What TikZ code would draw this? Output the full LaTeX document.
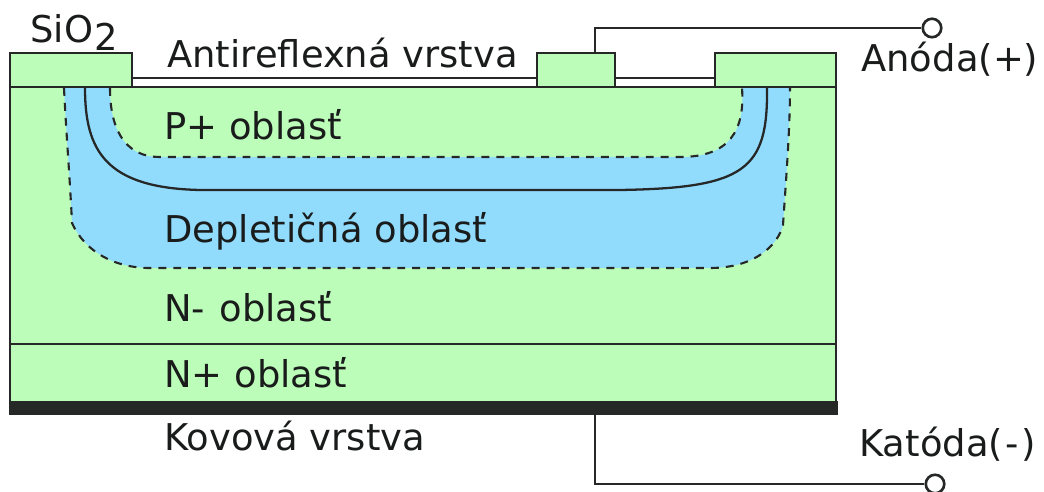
\documentclass[tikz,border=0pt]{standalone}
\usepackage{fontspec}
\setmainfont{DejaVu Sans}
\usetikzlibrary{positioning}
\definecolor{oxidegreen}{RGB}{187,253,185}
\definecolor{depleteblue}{RGB}{145,220,253}
\definecolor{inkdark}{RGB}{38,40,40}
\definecolor{textdark}{RGB}{26,28,28}
\tikzset{
  layer/.style={draw=inkdark, line width=1.6pt, fill=oxidegreen},
  edgeline/.style={inkdark, line width=1.3pt},
  dashline/.style={inkdark, line width=1.2pt, dash pattern=on 4.5pt off 4pt},
  wire/.style={inkdark, line width=1.5pt},
  terminal/.style={circle, draw=inkdark, line width=1.5pt, fill=white, inner sep=0pt, minimum size=0.37cm},
  label/.style={anchor=base west, inner sep=0pt, text=textdark, font=\fontsize{21}{25}\selectfont}
}
\begin{document}
\begin{tikzpicture}[x=0.02cm, y=-0.02cm]
        \useasboundingbox (0,0) rectangle (1044,492);

        % layers %
        \fill[oxidegreen] (10,87) rectangle (836,402);
        \fill[depleteblue] (64,88) .. controls (66,130) and (70,180) .. (72,223)
            .. controls (85,252) and (115,268) .. (150,268) -- (710,268)
            .. controls (755,268) and (778,245) .. (783,225)
            .. controls (786,180) and (790,130) .. (790,88) -- cycle;
        \fill[oxidegreen] (110,88) .. controls (110,125) and (122,157) .. (160,157) -- (680,157)
            .. controls (730,157) and (745,130) .. (742,88) -- cycle;

        % borders of the regions %
        \draw[dashline] (64,88) .. controls (66,130) and (70,180) .. (72,223)
            .. controls (85,252) and (115,268) .. (150,268) -- (710,268)
            .. controls (755,268) and (778,245) .. (783,225)
            .. controls (786,180) and (790,130) .. (790,88);
        \draw[dashline] (110,88) .. controls (110,125) and (122,157) .. (160,157) -- (680,157)
            .. controls (730,157) and (745,130) .. (742,88);
        \draw[edgeline] (85,88) .. controls (85,150) and (105,188) .. (200,190) -- (620,190)
            .. controls (745,188) and (768,170) .. (767,88);

        % contacts and bulk %
        \draw[layer, fill=none] (10,87) rectangle (836,402);
        \draw[edgeline] (10,344) -- (836,344);
        \fill[inkdark] (9,401) rectangle (838,415);
        \draw[layer, fill=white] (132,78) rectangle (715,87);
        \draw[layer] (10,53) rectangle (132,87);
        \draw[layer] (537,53) rectangle (615,87);
        \draw[layer] (715,53) rectangle (836,87);

        % terminals %
        \coordinate (anodefoot) at (595,53);
        \coordinate (cathodefoot) at (595,415);
        \node[terminal] (anode) at (932,28) {};
        \node[terminal] (cathode) at (935,484) {};
        \draw[wire] (anodefoot) |- (anode);
        \draw[wire] (cathodefoot) |- (cathode);

        % labels %
        \node[label] (oxide) at (30,43) {SiO\hspace{1pt}\raisebox{-4pt}{2}};
        \node[label] (antirefl) at (167,68) {Antireflexná vrstva};
        \node[label] (pplus) at (164,140) {P+ oblasť};
        \node[label] (deplete) at (164,243) {Depletičná oblasť};
        \node[label] (nminus) at (164,322) {N-\hspace{1.5pt} oblasť};
        \node[label] (nplus) at (164,388) {N+ oblasť};
        \node[label] (metal) at (164,451) {Kovová vrstva};
        \node[label] (anodetext) at (861,72) {Anóda(+)};
        \node[label] (cathodetext) at (859,457) {Katóda(\hspace{1.5pt}-\hspace{1.5pt})};
\end{tikzpicture}
\end{document}
